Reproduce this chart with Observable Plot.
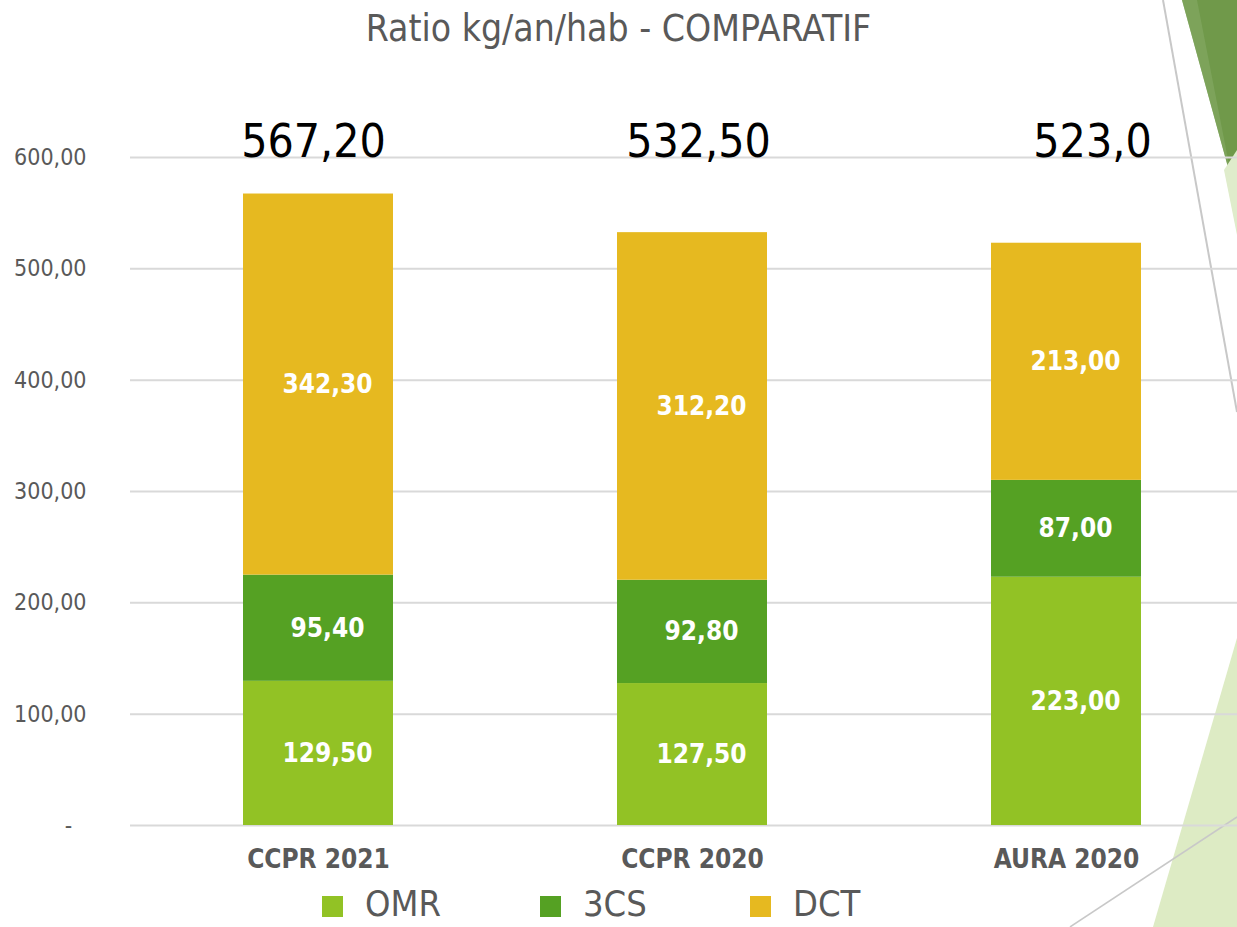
<!DOCTYPE html>
<html>
<head>
<meta charset="utf-8">
<script src="https://cdn.jsdelivr.net/npm/d3@7"></script>
<script src="https://cdn.jsdelivr.net/npm/@observablehq/plot@0.6"></script>
<style>
  html, body { margin: 0; padding: 0; background: #ffffff; }
  #page { position: relative; width: 1237px; height: 927px; overflow: hidden; background: #ffffff;
          font-family: "DejaVu Sans Condensed", "DejaVu Sans", sans-serif; font-stretch: condensed; }
  #decor { position: absolute; left: 0; top: 0; z-index: 0; }
  #title { position: absolute; left: 0; top: 0; width: 1237px; height: 56px; line-height: 58px;
           text-align: center; font-size: 37px; color: #595959; z-index: 1; }
  #chart { position: absolute; left: 0; top: 56px; z-index: 1; }
  #chart svg { background: transparent !important; }
  #legend { position: absolute; left: 0; top: 886px; width: 1237px; height: 36px; z-index: 1;
            font-size: 36px; line-height: 36px; color: #595959; }
  .item { position: absolute; top: 0; display: flex; align-items: center; height: 36px; }
  .sw { width: 21px; height: 21px; margin-right: 22px; margin-top: 5px; }
</style>
</head>
<body>
<div id="page">
  <svg id="decor" width="1237" height="927">
    <polygon points="1182,0 1237,0 1237,200" fill="#70994a"/>
    <polygon points="1182,0 1197,0 1233,185" fill="#86aa66" opacity="0.6"/>
    <polygon points="1224,170 1237,150 1237,235" fill="#dfeccb"/>
    <polygon points="1237,638 1153,927 1237,927" fill="#ddebc4"/>
    <line x1="1163" y1="0" x2="1237" y2="412" stroke="#c8c8c8" stroke-width="2"/>
    <line x1="1070" y1="927" x2="1237" y2="817" stroke="#c8c8c8" stroke-width="1.5"/>
  </svg>
  <div id="title">Ratio kg/an/hab - COMPARATIF</div>
  <div id="chart"></div>
  <div id="legend"></div>
</div>
<script>
// ---- data ----
const categories = ["CCPR 2021", "CCPR 2020", "AURA 2020"];
const series = ["OMR", "3CS", "DCT"];
const omr = [129.5, 127.5, 223.0];
const cs3 = [95.4, 92.8, 87.0];
const dct = [342.3, 312.2, 213.0];
const totalLabels = ["567,20", "532,50", "523,0"];
const yTicks = [0, 100, 200, 300, 400, 500, 600];
const colors = ["#92c225", "#55a123", "#e6b920"];

const values = [omr, cs3, dct];
const rows = [];
categories.forEach((c, i) => {
  series.forEach((s, j) => rows.push({cat: c, series: s, value: values[j][i]}));
});
const totals = categories.map((c, i) => ({cat: c, label: totalLabels[i]}));
const fmt = v => v.toFixed(2).replace(".", ",");
const font = "DejaVu Sans Condensed, DejaVu Sans, sans-serif";

// small manual nudges of the total labels, as in the original slide
const totalNudge = [-5, 6, 26];
const totalMarks = totals.map((t, i) =>
  Plot.text([t], {x: "cat", y: 613.5, text: "label", fill: "#000000", fontSize: 46, lineAnchor: "middle", dx: totalNudge[i]})
);

const chart = Plot.plot({
  width: 1237,
  height: 832,
  marginLeft: 130,
  marginRight: 0,
  marginTop: 0,
  marginBottom: 63,
  style: {background: "transparent", fontFamily: font, overflow: "visible"},
  x: {domain: categories, range: [130, 1253], paddingInner: 0.6, paddingOuter: 0.3, label: null},
  y: {domain: [0, 600], range: [769, 101], label: null},
  color: {domain: series, range: colors},
  marks: [
    Plot.ruleY(yTicks, {stroke: "#d9d9d9", strokeWidth: 2}),
    Plot.barY(rows, {x: "cat", y: "value", fill: "series"}),
    Plot.text(rows, Plot.stackY({
      x: "cat", y: "value", text: d => fmt(d.value),
      fill: "white", fontWeight: "bold", fontSize: 26, dx: 9
    })),
    ...totalMarks,
    Plot.axisX({tickSize: 0, tickPadding: 24, fontSize: 26, fontWeight: "bold", fill: "#595959", label: null}),
    Plot.axisY(yTicks.filter(t => t > 0), {
      tickSize: 0, tickPadding: 44, fontSize: 23, fill: "#595959", label: null, tickFormat: fmt
    }),
    Plot.text([0], {x: null, y: d => d, text: () => "-", frameAnchor: "left", dx: -62, fontSize: 23, fill: "#595959", textAnchor: "middle"})
  ]
});
document.getElementById("chart").appendChild(chart);

// legend
const legend = document.getElementById("legend");
const legendLeft = [322, 540, 750];
series.forEach((s, i) => {
  const item = document.createElement("div");
  item.className = "item";
  item.style.left = legendLeft[i] + "px";
  const sw = document.createElement("div");
  sw.className = "sw";
  sw.style.background = colors[i];
  const t = document.createElement("span");
  t.textContent = s;
  item.appendChild(sw);
  item.appendChild(t);
  legend.appendChild(item);
});
</script>
</body>
</html>
